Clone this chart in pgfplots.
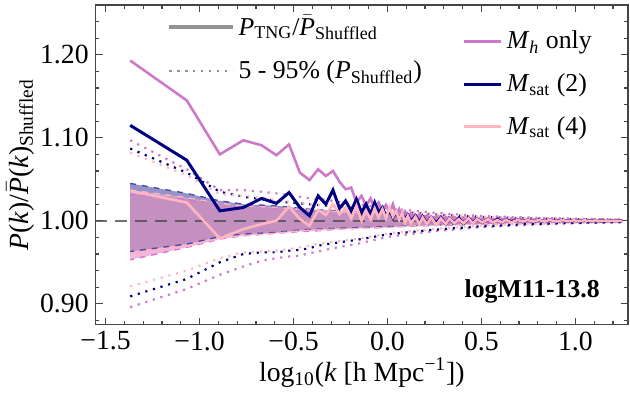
\documentclass[border=0pt]{standalone}
\usepackage{fontspec}
\setmainfont{Liberation Serif}
\usepackage{pgfplots}
\usepackage{pgfplotstable}
\pgfplotsset{compat=1.18}
\definecolor{orch}{RGB}{205,120,200}
\definecolor{orchband}{RGB}{218,112,214}
\definecolor{nav}{RGB}{0,0,128}
\definecolor{lpink}{RGB}{255,182,193}
\definecolor{axgray}{RGB}{70,70,70}
\newcommand{\Pbar}{$\bar{\mbox{\textit{P}}}$}

\pgfplotstableread{
x mh ms2 ms4
-1.369 1.193 1.115 1.036
-1.068 1.145 1.073 1.022
-0.892 1.080 1.012 0.979
-0.767 1.097 1.016 0.990
-0.670 1.091 1.027 0.996
-0.591 1.079 1.021 1.000
-0.524 1.092 1.034 1.017
-0.466 1.058 1.016 1.002
-0.415 1.049 1.006 0.994
-0.369 1.062 1.030 1.013
-0.328 1.054 1.020 1.007
-0.290 1.060 1.037 1.020
-0.255 1.047 1.015 1.008
-0.223 1.038 1.024 1.016
-0.193 1.040 1.012 1.003
-0.165 1.022 1.026 1.018
-0.138 1.030 1.010 1.000
-0.114 1.018 1.020 1.012
-0.090 1.027 1.008 1.002
-0.068 1.015 1.022 1.015
-0.047 1.022 1.010 1.004
-0.027 1.012 1.016 1.014
-0.008 1.019 1.005 1.003
0.011 1.010 1.013 1.016
0.029 1.020 1.004 1.005
0.046 1.007 1.011 1.012
0.062 1.014 1.002 1.001
0.078 1.005 1.009 1.010
0.093 1.011 1.001 0.998
0.108 1.003 1.007 1.006
0.125 1.009 0.999 0.997
0.149 1.002 1.006 1.005
0.170 1.008 0.998 0.996
0.187 1.000 1.005 1.004
0.210 1.006 0.997 0.996
0.233 0.998 1.004 1.004
0.260 1.005 0.997 0.995
0.284 0.998 1.004 1.003
0.310 1.004 0.996 0.996
0.330 0.997 1.003 1.003
0.355 1.004 0.997 0.997
0.379 0.998 1.003 1.002
0.405 1.003 0.997 0.997
0.430 0.998 1.003 1.003
0.455 1.003 0.998 0.997
0.476 0.997 1.002 1.002
0.505 1.002 0.998 0.998
0.534 0.998 1.002 1.002
0.560 1.002 0.998 0.998
0.585 0.998 1.002 1.001
0.610 1.002 0.998 0.998
0.631 0.999 1.001 1.001
0.660 1.002 0.999 0.998
0.692 0.999 1.001 1.001
0.720 1.001 0.999 0.999
0.745 0.999 1.001 1.001
0.775 1.001 0.999 0.999
0.807 0.999 1.001 1.001
0.835 1.001 0.999 0.999
0.861 0.999 1.001 1.001
0.900 1.001 0.9993 0.9992
0.932 0.9992 1.0008 1.0008
0.960 1.0008 0.9993 0.9993
0.993 0.9993 1.0007 1.0006
1.020 1.0007 0.9994 0.9994
1.046 0.9994 1.0006 1.0006
1.080 1.0006 0.9995 0.9995
1.108 0.9995 1.0005 1.0005
1.135 1.0005 0.9996 0.9996
1.162 0.9996 1.0004 1.0004
1.190 1.0004 0.9997 0.9997
1.210 0.9997 1.0003 1.0003
1.230 1.0003 0.9998 0.9998
1.249 1.0000 1.0000 1.0000
}\mylines

% shaded bands: upper edge left to right, then lower edge right to left
\pgfplotstableread{
x o n p
-1.369 1.032 1.045 1.037
-1.068 1.026 1.033 1.028
-0.892 1.020 1.024 1.021
-0.767 1.018 1.020 1.018
-0.591 1.015 1.018 1.016
-0.466 1.013 1.015 1.014
-0.369 1.012 1.013 1.012
-0.255 1.011 1.012 1.011
-0.138 1.010 1.010 1.010
0.011 1.008 1.008 1.008
0.149 1.007 1.007 1.007
0.330 1.005 1.005 1.005
0.476 1.004 1.004 1.004
0.631 1.003 1.003 1.003
0.807 1.002 1.002 1.002
0.993 1.0015 1.0015 1.0015
1.162 1.001 1.001 1.001
1.249 1.0008 1.0008 1.0008
1.249 0.9992 0.9992 0.9992
1.162 0.999 0.999 0.999
0.993 0.9985 0.9985 0.9985
0.807 0.998 0.998 0.998
0.631 0.997 0.997 0.997
0.476 0.996 0.996 0.996
0.330 0.995 0.995 0.995
0.149 0.994 0.994 0.994
0.011 0.992 0.993 0.992
-0.138 0.991 0.992 0.991
-0.255 0.990 0.991 0.990
-0.369 0.988 0.990 0.989
-0.466 0.987 0.989 0.988
-0.591 0.985 0.986 0.985
-0.767 0.982 0.984 0.982
-0.892 0.978 0.981 0.979
-1.068 0.968 0.972 0.969
-1.369 0.953 0.963 0.957
}\mybands

\pgfplotstableread{
x ou ol nu nl pu pl
-1.369 1.097 0.896 1.087 0.909 1.082 0.921
-1.068 1.062 0.918 1.058 0.930 1.055 0.940
-0.892 1.037 0.935 1.035 0.950 1.032 0.955
-0.767 1.037 0.945 1.029 0.960 1.030 0.962
-0.670 1.035 0.952 1.026 0.962 1.028 0.963
-0.591 1.033 0.955 1.024 0.962 1.025 0.964
-0.524 1.031 0.957 1.022 0.964 1.023 0.966
-0.466 1.029 0.958 1.021 0.965 1.022 0.968
-0.415 1.027 0.961 1.020 0.967 1.020 0.970
-0.369 1.026 0.963 1.019 0.970 1.019 0.972
-0.290 1.024 0.967 1.018 0.973 1.018 0.975
-0.165 1.020 0.972 1.016 0.977 1.016 0.978
0.011 1.015 0.981 1.012 0.984 1.012 0.985
0.233 1.010 0.987 1.008 0.989 1.008 0.990
0.476 1.006 0.992 1.005 0.993 1.005 0.994
0.745 1.004 0.995 1.003 0.996 1.003 0.996
0.993 1.0025 0.997 1.002 0.9975 1.002 0.9975
1.249 1.0015 0.998 1.0012 0.9985 1.0012 0.9985
}\mypct

\begin{document}
\begin{tikzpicture}
\pgfplotsset{
  base/.style={
    scale only axis, width=269pt, height=161.5pt,
    at={(0,0)}, anchor=south west,
    xmin=-1.553, xmax=1.28, ymin=0.875, ymax=1.26,
  }
}
\begin{axis}[base,
  axis line style={axgray, line width=0.8pt},
  tick align=inside,
  major tick length=3.5pt, minor tick length=1.8pt,
  every tick/.style={axgray, line width=0.6pt},
  xtick={-1.5,-1,-0.5,0,0.5,1},
  xticklabels={−1.5,−1.0,−0.5,0.0,0.5,1.0},
  minor xtick={-1.5,-1.4,...,1.25},
  ytick={0.9,1.0,1.1,1.2},
  yticklabels={0.90,1.00,1.10,1.20},
  minor ytick={0.88,0.90,...,1.26},
  ticklabel style={font=\fontsize{14}{16}\selectfont},
  label style={font=\fontsize{14}{16}\selectfont},
  xlabel={log\textsubscript{10}(\textit{k} [h Mpc\textsuperscript{−1}])},
  ylabel={\textit{P}(\textit{k})/\Pbar(\textit{k})\textsubscript{Shuffled}},
  xlabel style={yshift=3pt},
  ylabel style={yshift=-4pt},
  legend style={at={(0.134,0.982)}, anchor=north west, draw=none, fill=none,
    inner sep=0pt, row sep=7.5pt, font=\fontsize{13}{15}\selectfont,
    nodes={inner sep=2pt}},
  legend cell align=left,
  legend image code/.code={\draw[#1] (0pt,0pt) -- (28pt,0pt); \path (0pt,0pt) -- (32pt,0pt);},
]
% bands
\addplot[forget plot, draw=none, fill=orchband, fill opacity=0.5] table[x=x,y=o]{\mybands};
\addplot[forget plot, draw=none, fill=nav, fill opacity=0.42] table[x=x,y=n]{\mybands};
\addplot[forget plot, draw=none, fill=lpink, fill opacity=0.5] table[x=x,y=p]{\mybands};
\addplot[forget plot, orchband, dashed, line width=0.7pt] table[x=x,y=o]{\mybands};
\addplot[forget plot, nav!70, dashed, line width=0.7pt] table[x=x,y=n]{\mybands};
\addplot[forget plot, lpink, dashed, line width=0.7pt] table[x=x,y=p]{\mybands};
% reference line
\addplot[forget plot, gray!60!black, line width=0.9pt, dash pattern=on 6pt off 4pt, opacity=0.8] coordinates {(-1.553,1) (1.28,1)};
% percentiles
\addplot[forget plot, orch, line width=1.1pt, dash pattern=on 1.1pt off 2.9pt] table[x=x,y=ou]{\mypct};
\addplot[forget plot, orch, line width=1.1pt, dash pattern=on 1.1pt off 2.9pt] table[x=x,y=ol]{\mypct};
\addplot[forget plot, nav, line width=1.1pt, dash pattern=on 1.1pt off 2.9pt] table[x=x,y=nu]{\mypct};
\addplot[forget plot, nav, line width=1.1pt, dash pattern=on 1.1pt off 2.9pt] table[x=x,y=nl]{\mypct};
\addplot[forget plot, lpink, line width=1.1pt, dash pattern=on 1.1pt off 2.9pt] table[x=x,y=pu]{\mypct};
\addplot[forget plot, lpink, line width=1.1pt, dash pattern=on 1.1pt off 2.9pt] table[x=x,y=pl]{\mypct};
% main lines
\addplot[forget plot, orch, line width=1.3pt] table[x=x,y=mh]{\mylines};
\addplot[forget plot, nav, line width=1.5pt] table[x=x,y=ms2]{\mylines};
\addplot[forget plot, lpink, line width=1.3pt] table[x=x,y=ms4]{\mylines};
% legend 1
\addlegendimage{gray!85, line width=2pt}
\addlegendentry{\textit{P}\textsubscript{TNG}/\Pbar\textsubscript{Shuffled}}
\addlegendimage{gray!85, line width=1.2pt, dash pattern=on 1.2pt off 2.8pt}
\addlegendentry{5 - 95\% (\textit{P}\textsubscript{Shuffled})}
\node[font=\fontsize{13}{15}\selectfont\bfseries] at (axis cs:0.77,0.915) {logM11-13.8};
\end{axis}
\begin{axis}[base, hide axis,
  legend style={at={(0.688,0.932)}, anchor=north west, draw=none, fill=none,
    inner sep=0pt, row sep=7pt, font=\fontsize{13}{15}\selectfont,
    nodes={inner sep=2pt}},
  legend cell align=left,
  legend image code/.code={\draw[#1] (0pt,0pt) -- (14pt,0pt); \path (0pt,0pt) -- (19pt,0pt);},
]
\addplot[draw=none, forget plot] coordinates {(0,1) (0.1,1.01)};
\addlegendimage{orch, line width=1.3pt}
\addlegendentry{\textit{M}\textsubscript{\textit{h}} only\rule[-5.5pt]{0pt}{5.5pt}}
\addlegendimage{nav, line width=1.5pt}
\addlegendentry{\textit{M}\textsubscript{sat} (2)}
\addlegendimage{lpink, line width=1.5pt}
\addlegendentry{\textit{M}\textsubscript{sat} (4)}
\end{axis}
\path[use as bounding box] (-45pt,-33.5pt) rectangle (270pt,164pt);
\end{tikzpicture}
\end{document}
